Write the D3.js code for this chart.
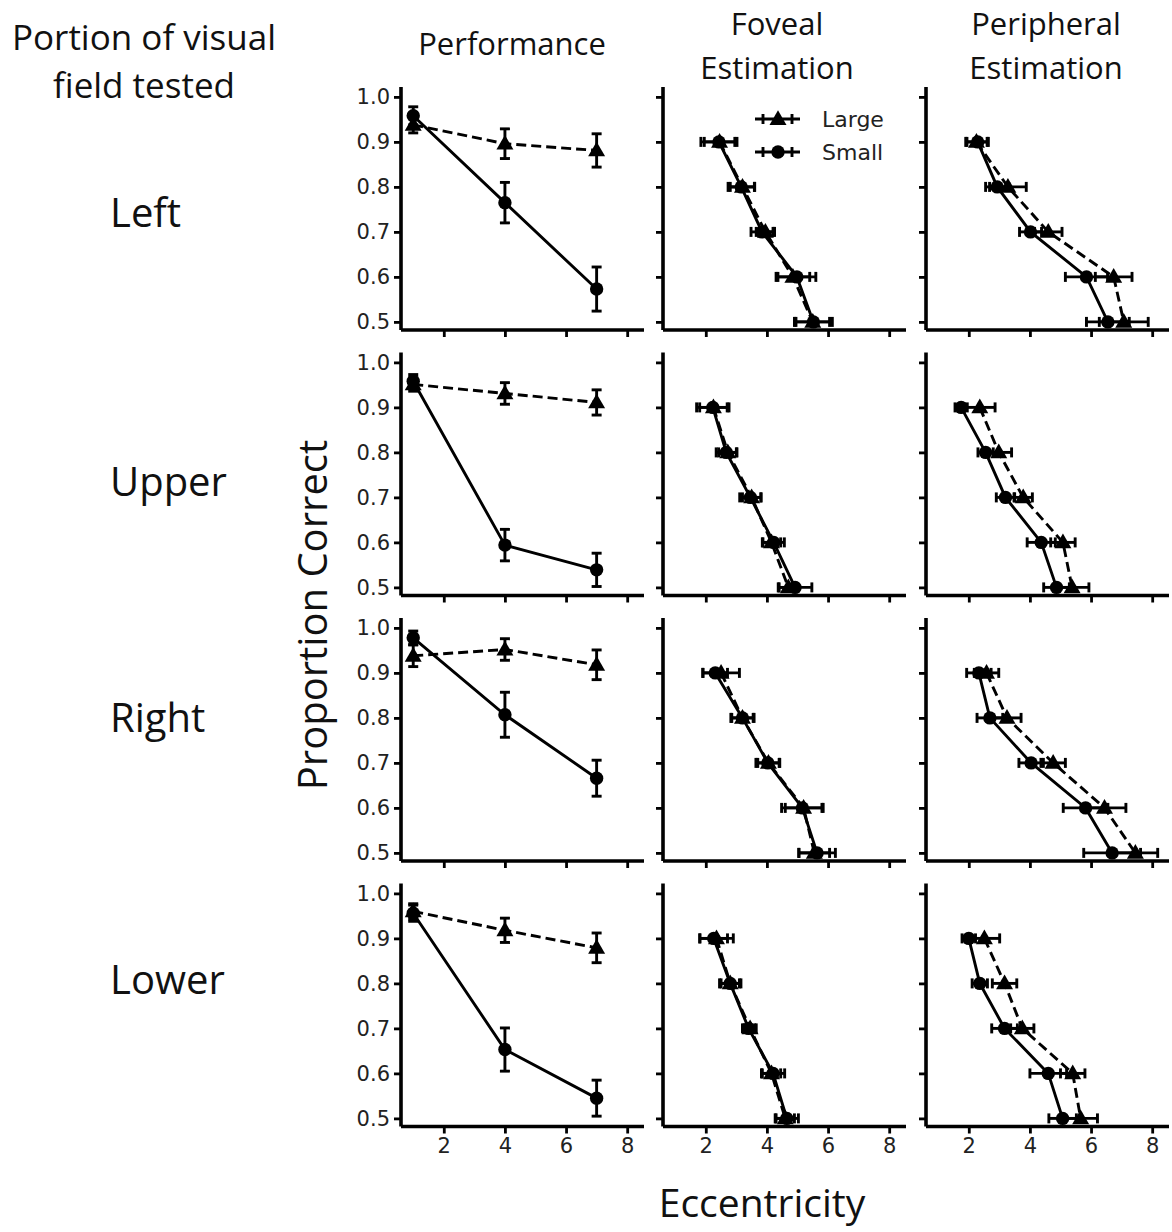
<!DOCTYPE html>
<html><head><meta charset="utf-8">
<script src="https://cdn.jsdelivr.net/npm/d3@7"></script>
<style>body{margin:0;background:#fff}svg{display:block}</style>
</head><body>
<script>
// ---------------- DATA ----------------
const rowNames = ["Left", "Upper", "Right", "Lower"];
const colTitles = [["Performance"], ["Foveal", "Estimation"], ["Peripheral", "Estimation"]];
const seriesNames = ["Large", "Small"];
const xTicks = [2, 4, 6, 8];
const yTicks = [0.5, 0.6, 0.7, 0.8, 0.9, 1.0];

// Performance: x = eccentricity, y = proportion correct
const perfX = [1, 4, 7];
const perfSmall = [[0.958, 0.765, 0.573], [0.958, 0.594, 0.539], [0.978, 0.807, 0.666], [0.956, 0.653, 0.545]];
const perfSmallErr = [[0.02, 0.045, 0.049], [0.015, 0.035, 0.037], [0.015, 0.05, 0.04], [0.018, 0.048, 0.04]];
const perfLarge = [[0.938, 0.896, 0.881], [0.951, 0.931, 0.911], [0.938, 0.952, 0.918], [0.96, 0.918, 0.879]];
const perfLargeErr = [[0.018, 0.033, 0.037], [0.015, 0.024, 0.028], [0.024, 0.024, 0.033], [0.017, 0.027, 0.033]];

// Estimation: y = proportion correct level, x = estimated eccentricity
const estLevels = [0.9, 0.8, 0.7, 0.6, 0.5];
const fovSmall = [[2.43, 3.16, 3.84, 4.98, 5.52], [2.23, 2.67, 3.46, 4.22, 4.92], [2.31, 3.2, 4.03, 5.16, 5.64], [2.26, 2.8, 3.4, 4.2, 4.65]];
const fovSmallErr = [[0.59, 0.43, 0.36, 0.62, 0.62], [0.53, 0.33, 0.35, 0.35, 0.55], [0.4, 0.38, 0.39, 0.68, 0.6], [0.45, 0.35, 0.2, 0.38, 0.38]];
const fovLarge = [[2.45, 3.2, 3.95, 4.85, 5.5], [2.25, 2.72, 3.5, 4.15, 4.7], [2.5, 3.2, 4.05, 5.2, 5.55], [2.35, 2.8, 3.45, 4.15, 4.6]];
const fovLargeErr = [[0.5, 0.4, 0.3, 0.55, 0.55], [0.45, 0.3, 0.3, 0.3, 0.3], [0.6, 0.35, 0.35, 0.6, 0.5], [0.55, 0.3, 0.2, 0.3, 0.3]];
const perSmall = [[2.29, 2.93, 4.02, 5.85, 6.55], [1.75, 2.55, 3.2, 4.37, 4.87], [2.33, 2.69, 4.04, 5.82, 6.69], [2.0, 2.36, 3.17, 4.6, 5.07]];
const perSmallErr = [[0.35, 0.38, 0.36, 0.69, 0.7], [0.2, 0.25, 0.3, 0.46, 0.42], [0.4, 0.42, 0.4, 0.73, 0.93], [0.22, 0.25, 0.42, 0.6, 0.45]];
const perLarge = [[2.25, 3.28, 4.6, 6.74, 7.07], [2.36, 2.98, 3.78, 5.08, 5.38], [2.58, 3.25, 4.76, 6.44, 7.45], [2.51, 3.17, 3.75, 5.4, 5.66]];
const perLargeErr = [[0.35, 0.6, 0.45, 0.6, 0.8], [0.5, 0.42, 0.3, 0.4, 0.55], [0.4, 0.46, 0.4, 0.7, 0.73], [0.5, 0.4, 0.38, 0.4, 0.55]];

// ---------------- LAYOUT ----------------
const W = 1172, H = 1232;
const colLeft = [401, 663, 926];
const rowTop = [87, 352.5, 618, 883.5];
const pw = 243, ph = 243;
const rowLabelY = [213, 482, 718, 980];
const colCenters = [512, 777, 1046];
const bigFont = "'Open Sans', 'Noto Sans', sans-serif";
const tickFont = "'DejaVu Sans', sans-serif";
const LW = 2.9;

const svg = d3.select("body").append("svg").attr("width", W).attr("height", H);

const x = d3.scaleLinear().domain([0.6, 8.55]).range([0, pw]);
const y = d3.scaleLinear().domain([0.482, 1.022]).range([ph, 0]);

const line = d3.line().x(d => x(d.x)).y(d => y(d.y));
const tri = d3.symbol().type(d3.symbolTriangle).size(125);
const cap = 5;

function drawSeries(g, pts, style, vertical) {
  const eb = g.append("g").attr("stroke", "#000").attr("stroke-width", LW).attr("fill", "none");
  pts.forEach(p => {
    if (vertical) {
      const y0 = y(p.y - p.e), y1 = y(p.y + p.e), cx = x(p.x);
      eb.append("line").attr("x1", cx).attr("x2", cx).attr("y1", y0).attr("y2", y1);
      eb.append("line").attr("x1", cx - cap).attr("x2", cx + cap).attr("y1", y0).attr("y2", y0);
      eb.append("line").attr("x1", cx - cap).attr("x2", cx + cap).attr("y1", y1).attr("y2", y1);
    } else {
      const x0 = x(p.x - p.e), x1 = x(p.x + p.e), cy = y(p.y);
      eb.append("line").attr("x1", x0).attr("x2", x1).attr("y1", cy).attr("y2", cy);
      eb.append("line").attr("x1", x0).attr("x2", x0).attr("y1", cy - cap).attr("y2", cy + cap);
      eb.append("line").attr("x1", x1).attr("x2", x1).attr("y1", cy - cap).attr("y2", cy + cap);
    }
  });
  g.append("path").datum(pts).attr("d", line).attr("fill", "none").attr("stroke", "#000")
    .attr("stroke-width", LW).attr("stroke-dasharray", style === "Large" ? "10,5" : null);
  if (style === "Large") {
    g.selectAll(null).data(pts).join("path").attr("d", tri)
      .attr("transform", d => `translate(${x(d.x)},${y(d.y) + 1})`).attr("fill", "#000");
  } else {
    g.selectAll(null).data(pts).join("circle").attr("cx", d => x(d.x)).attr("cy", d => y(d.y))
      .attr("r", 6.7).attr("fill", "#000");
  }
}

for (let r = 0; r < 4; r++) {
  for (let c = 0; c < 3; c++) {
    const g = svg.append("g").attr("transform", `translate(${colLeft[c]},${rowTop[r]})`);
    const ya = d3.axisLeft(y).tickValues(yTicks).tickSize(7).tickPadding(4)
      .tickFormat(c === 0 ? d3.format(".1f") : () => "");
    const xa = d3.axisBottom(x).tickValues(xTicks).tickSize(7).tickPadding(5)
      .tickFormat(r === 3 ? d3.format("d") : () => "");
    const gy = g.append("g").call(ya);
    const gx = g.append("g").attr("transform", `translate(0,${ph})`).call(xa);
    [gx, gy].forEach(a => {
      a.select(".domain").attr("stroke-width", 3.6);
      a.selectAll(".tick line").attr("stroke-width", 2.8);
      a.selectAll("text").attr("font-family", tickFont).attr("font-size", 21).attr("fill", "#222");
    });
    gy.select(".domain").attr("d", `M0,0V${ph}`);
    gx.select(".domain").attr("d", `M0,0H${pw}`);

    let sets;
    if (c === 0) {
      sets = [
        ["Large", perfX.map((v, i) => ({ x: v, y: perfLarge[r][i], e: perfLargeErr[r][i] }))],
        ["Small", perfX.map((v, i) => ({ x: v, y: perfSmall[r][i], e: perfSmallErr[r][i] }))]
      ];
    } else {
      const L = c === 1 ? fovLarge : perLarge, LE = c === 1 ? fovLargeErr : perLargeErr;
      const S = c === 1 ? fovSmall : perSmall, SE = c === 1 ? fovSmallErr : perSmallErr;
      sets = [
        ["Large", estLevels.map((v, i) => ({ x: L[r][i], y: v, e: LE[r][i] }))],
        ["Small", estLevels.map((v, i) => ({ x: S[r][i], y: v, e: SE[r][i] }))]
      ];
    }
    sets.forEach(([name, pts]) => drawSeries(g.append("g"), pts, name, c === 0));

    if (r === 0 && c === 1) {
      const lg = g.append("g").attr("transform", "translate(92,32)");
      seriesNames.forEach((name, i) => {
        const row = lg.append("g").attr("transform", `translate(0,${i * 33})`);
        row.append("line").attr("x1", 0).attr("x2", 45).attr("stroke", "#000").attr("stroke-width", LW);
        [8, 37].forEach(cx => row.append("line").attr("x1", cx).attr("x2", cx).attr("y1", -5).attr("y2", 5)
          .attr("stroke", "#000").attr("stroke-width", LW));
        if (name === "Large") row.append("path").attr("d", tri).attr("transform", "translate(23,1)");
        else row.append("circle").attr("cx", 23).attr("r", 6.7);
        row.append("text").attr("x", 67).attr("y", 8).text(name)
          .attr("font-family", tickFont).attr("font-size", 22).attr("fill", "#222");
      });
    }
  }
}

// Column titles
colTitles.forEach((lines, c) => {
  const t = svg.append("text").attr("text-anchor", "middle").attr("font-family", bigFont)
    .attr("font-size", 31).attr("fill", "#111");
  if (lines.length === 1) {
    t.append("tspan").attr("x", colCenters[c]).attr("y", 55).text(lines[0]);
  } else {
    lines.forEach((s, i) => t.append("tspan").attr("x", colCenters[c]).attr("y", 35 + i * 44).text(s));
  }
});

// Top-left heading
const th = svg.append("text").attr("text-anchor", "middle").attr("font-family", bigFont)
  .attr("font-size", 35).attr("fill", "#111");
th.append("tspan").attr("x", 144).attr("y", 50).text("Portion of visual");
th.append("tspan").attr("x", 144).attr("y", 98).text("field tested");

// Row labels
rowNames.forEach((n, i) => {
  svg.append("text").attr("x", 110).attr("y", rowLabelY[i]).attr("dy", "0.35em")
    .attr("font-family", bigFont).attr("font-size", 40).attr("fill", "#111").text(n);
});

// Axis titles
svg.append("text").attr("transform", "translate(313,615) rotate(-90)").attr("text-anchor", "middle")
  .attr("dy", "0.35em").attr("font-family", bigFont).attr("font-size", 40).attr("fill", "#111")
  .text("Proportion Correct");
svg.append("text").attr("x", 762).attr("y", 1217).attr("text-anchor", "middle")
  .attr("font-family", bigFont).attr("font-size", 39).attr("fill", "#111").text("Eccentricity");
</script>
</body></html>
